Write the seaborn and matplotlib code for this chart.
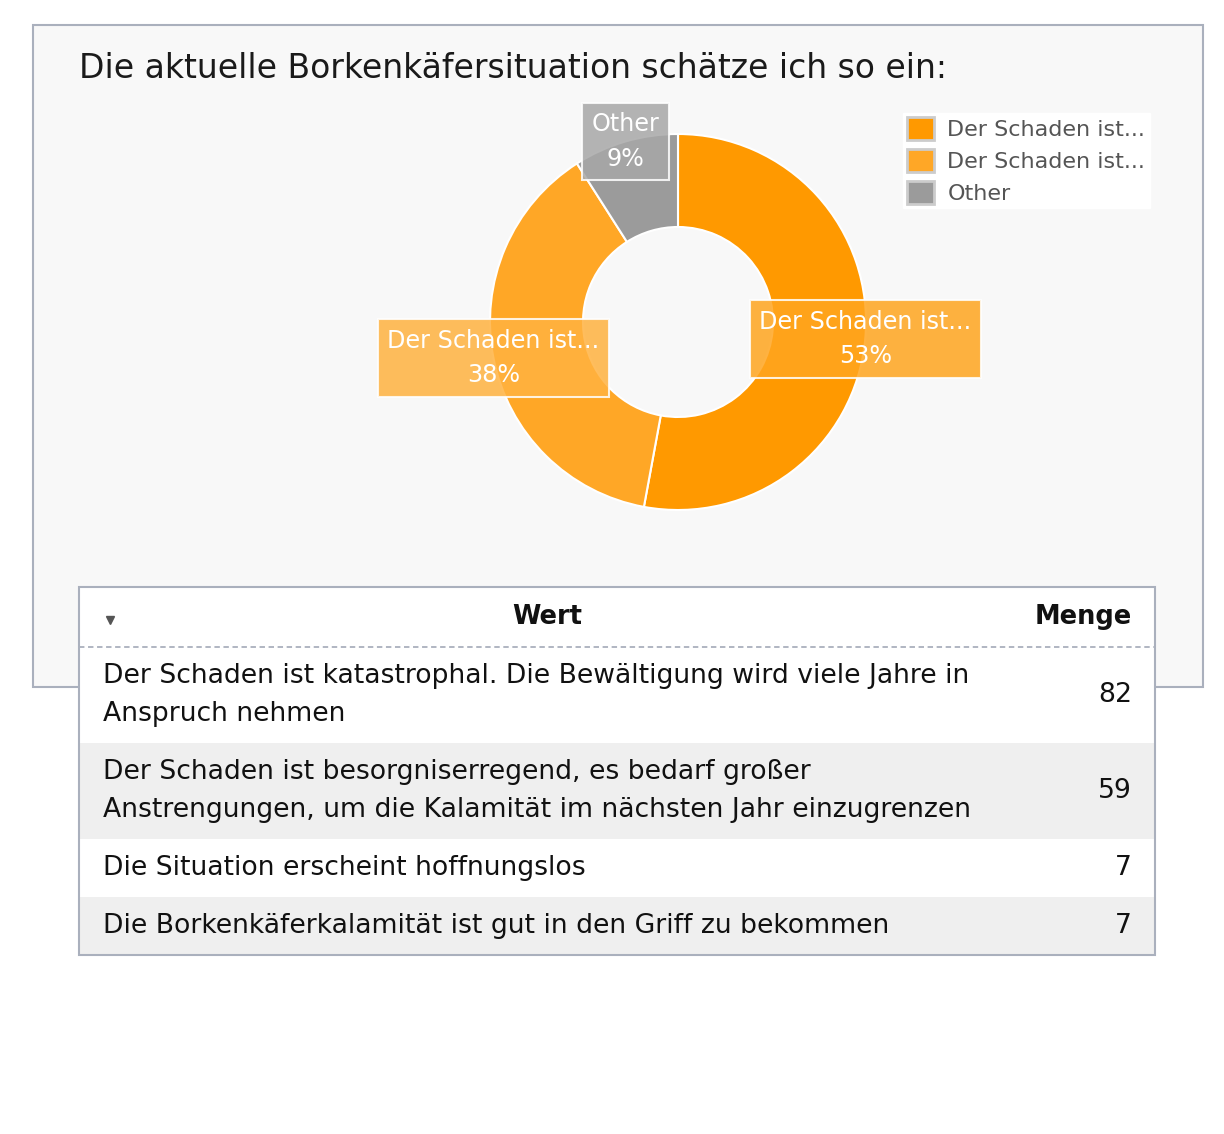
import textwrap
import matplotlib
matplotlib.use("Agg")
import matplotlib.pyplot as plt
from matplotlib.patches import Rectangle, Patch
from matplotlib.colors import to_rgb
import numpy as np
import seaborn as sns

# survey data
title = "Die aktuelle Borkenkäfersituation schätze ich so ein:"
answers = [
    "Der Schaden ist katastrophal. Die Bewältigung wird viele Jahre in Anspruch nehmen",
    "Der Schaden ist besorgniserregend, es bedarf großer Anstrengungen, um die Kalamität im nächsten Jahr einzugrenzen",
    "Die Situation erscheint hoffnungslos",
    "Die Borkenkäferkalamität ist gut in den Griff zu bekommen",
]
counts = [82, 59, 7, 7]
slice_labels = ["Der Schaden ist...", "Der Schaden ist...", "Other"]
slice_colors = ["#ff9900", "#ffa726", "#9b9b9b"]
col_headers = ["Wert", "Menge"]

# the donut shows the two big answers, the rest goes into "Other"
donut_values = counts[:2] + [sum(counts[2:])]
total = sum(donut_values)

sns.set_theme(style="white")
plt.rcParams["font.family"] = ["DejaVu Sans"]

W, H = 1224, 1134
fig = plt.figure(figsize=(W / 100, H / 100), dpi=100)
fig.patch.set_facecolor("white")

# background axes in pixel coordinates
bg = fig.add_axes([0, 0, 1, 1])
bg.set_xlim(0, W)
bg.set_ylim(H, 0)
bg.axis("off")

border = "#aab0bd"
bg.add_patch(Rectangle((33, 25), 1170, 662, fc="#f8f8f8", ec=border, lw=1.5, zorder=1))
bg.text(79, 78, title, fontsize=23.8, color="#1a1a1a", va="baseline", ha="left", zorder=2)

# legend
handles = [Patch(fc=c, ec="#cccccc", lw=2) for c in slice_colors]
leg = bg.legend(handles, slice_labels, loc="upper left", bbox_to_anchor=(903, 113),
                bbox_transform=bg.transData, borderaxespad=0, borderpad=0.2,
                fontsize=16, labelcolor="#555555", frameon=True, fancybox=False,
                facecolor="white", edgecolor="white", framealpha=1,
                handlelength=1.2, handleheight=1.2, handletextpad=0.6,
                labelspacing=0.4)
leg.set_zorder(3)

# table
tx0, tx1 = 79, 1155
ty0 = 587
header_h = 60
line_h = 38
row_pad = 20
split = 1015
fs = 19.2
wrapped = [textwrap.wrap(a, 65) for a in answers]
row_h = [row_pad + line_h * len(w) for w in wrapped]
table_h = header_h + sum(row_h)

bg.add_patch(Rectangle((tx0, ty0), tx1 - tx0, table_h, fc="white", ec="none", zorder=4))
bg.plot([110], [620], marker="v", ms=6, color="#555555", zorder=6)
bg.text((tx0 + split) / 2, ty0 + header_h / 2, col_headers[0], fontsize=18.5, fontweight="bold",
        ha="center", va="center", color="#111111", zorder=6)
bg.text(tx1 - 23, ty0 + header_h / 2, col_headers[1], fontsize=18.5, fontweight="bold",
        ha="right", va="center", color="#111111", zorder=6)
bg.plot([tx0, tx1], [ty0 + header_h] * 2, color=border, lw=1.3, ls=(0, (3, 2)), zorder=6)

y = ty0 + header_h
for i, (lines, n) in enumerate(zip(wrapped, counts)):
    h = row_h[i]
    bg.add_patch(Rectangle((tx0, y), tx1 - tx0, h, fc="white" if i % 2 == 0 else "#efefef",
                           ec="none", zorder=5))
    for j, line in enumerate(lines):
        bg.text(tx0 + 24, y + row_pad / 2 + line_h / 2 + j * line_h, line, fontsize=fs,
                ha="left", va="center", color="#111111", zorder=6)
    bg.text(tx1 - 23, y + h / 2, str(n), fontsize=fs, ha="right", va="center",
            color="#111111", zorder=6)
    y += h

bg.add_patch(Rectangle((tx0, ty0), tx1 - tx0, table_h, fc="none", ec=border, lw=1.5, zorder=7))

# donut
cx, cy, half = 678, 322, 200
outer, inner = 188, 95
ax = fig.add_axes([(cx - half) / W, (H - cy - half) / H, 2 * half / W, 2 * half / H])
wedges, _ = ax.pie(donut_values, radius=outer, startangle=90, counterclock=False,
                   colors=slice_colors,
                   wedgeprops=dict(width=outer - inner, edgecolor="white", linewidth=1.5))
ax.set_xlim(-half, half)
ax.set_ylim(-half, half)
ax.axis("off")


def lighten(c, amt):
    r = np.array(to_rgb(c))
    return tuple(r + (1 - r) * amt)


for w, lab, v, c in zip(wedges, slice_labels, donut_values, slice_colors):
    mid = np.deg2rad((w.theta1 + w.theta2) / 2)
    x, yy = outer * np.cos(mid), outer * np.sin(mid)
    ax.text(x, yy, f"{lab}\n{v / total:.0%}", fontsize=17.2, color="white", ha="center",
            va="center", linespacing=1.56, zorder=10,
            bbox=dict(boxstyle="square,pad=0.4", fc=lighten(c, 0.12), alpha=0.85,
                      ec="white", lw=1.5))

fig.savefig("out.png", dpi=100)
